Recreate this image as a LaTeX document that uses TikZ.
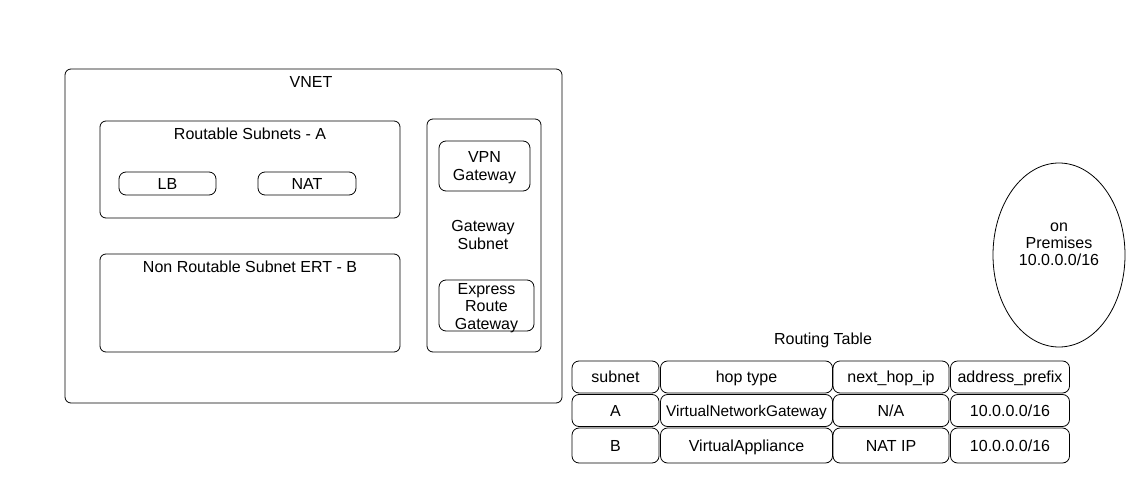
\documentclass[tikz,border=0pt]{standalone}
\usepackage{fontspec}
\setmainfont{Liberation Sans}
\usetikzlibrary{shapes.geometric}
\begin{document}
\begin{tikzpicture}[x=1pt,y=-1pt,
  box/.style={draw,rounded corners=#1,line width=0.8pt},
  box/.default=6pt,
  txt/.style={font=\fontsize{16}{17.5}\selectfont,align=center,inner sep=0pt,text depth=0pt},
  cell/.style={draw,rounded corners=7pt,line width=0.8pt,font=\fontsize{16}{17.5}\selectfont,inner sep=0pt,anchor=center,align=center,text depth=0pt}]
\useasboundingbox (0,0) rectangle (1142,500);
% VNET
\draw[box] (65,69) rectangle (562,403);
\node[txt] (vnet) at (311,82) {VNET};
% Routable subnets A
\draw[box] (100,121) rectangle (400,218);
\node[txt] (rsa) at (250,134) {Routable Subnets - A};
\node[cell,minimum width=97pt,minimum height=23pt] (lb) at (167.5,183.5) {LB};
\node[cell,minimum width=98pt,minimum height=23pt] (nat) at (307,183.5) {NAT};
% Non routable
\draw[box] (100,254) rectangle (400,352);
\node[txt] (nrb) at (250,267) {Non Routable Subnet ERT - B};
% Gateway subnet
\draw[box] (427,119) rectangle (541,352);
\node[txt] (gws) at (483,235) {Gateway\\Subnet};
\node[cell,minimum width=91pt,minimum height=50pt] (vpn) at (484.5,166) {VPN\\Gateway};
\node[cell,minimum width=95pt,minimum height=51pt] (erg) at (486.5,305.5) {};
\node[txt] (ergt) at (486.5,306) {Express\\Route\\Gateway};
% On premises
\node[draw,ellipse,line width=0.8pt,minimum width=132pt,minimum height=184pt,inner sep=0pt] (onp) at (1059,255) {};
\node[txt,font=\fontsize{16}{16.8}\selectfont] (onpt) at (1059,244) {on\\Premises\\10.0.0.0/16};
% Routing table
\node[txt] (rt) at (823,339) {Routing Table};
\node[cell,minimum width=87pt,minimum height=32pt] (c11) at (615.5,377) {subnet};
\node[cell,minimum width=172pt,minimum height=32pt] (c12) at (746.5,377) {hop type};
\node[cell,minimum width=116pt,minimum height=32pt] (c13) at (891,377) {next\_hop\_ip};
\node[cell,minimum width=119pt,minimum height=32pt] (c14) at (1010,377) {address\_prefix};
\node[cell,minimum width=87pt,minimum height=32pt] (c21) at (615.5,410.5) {A};
\node[cell,minimum width=172pt,minimum height=32pt,font=\fontsize{15.4}{17}\selectfont] (c22) at (746.5,410.5) {VirtualNetworkGateway};
\node[cell,minimum width=116pt,minimum height=32pt] (c23) at (891,410.5) {N/A};
\node[cell,minimum width=119pt,minimum height=32pt] (c24) at (1010,410.5) {10.0.0.0/16};
\node[cell,minimum width=87pt,minimum height=35pt] (c31) at (615.5,445.5) {B};
\node[cell,minimum width=172pt,minimum height=35pt] (c32) at (746.5,445.5) {VirtualAppliance};
\node[cell,minimum width=116pt,minimum height=35pt] (c33) at (891,445.5) {NAT IP};
\node[cell,minimum width=119pt,minimum height=35pt] (c34) at (1010,445.5) {10.0.0.0/16};
\end{tikzpicture}
\end{document}
